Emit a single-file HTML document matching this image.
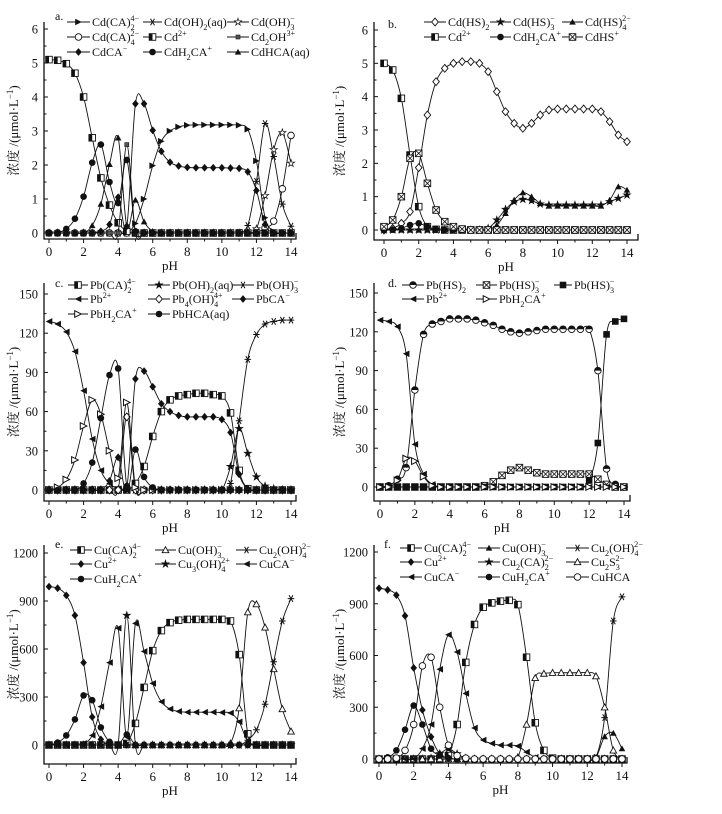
<!DOCTYPE html>
<html><head><meta charset="utf-8">
<style>
html,body{margin:0;padding:0;background:#fff;}
svg{display:block;}
text{font-family:"Liberation Serif","Noto Serif CJK SC",serif;fill:#111;}
</style></head>
<body>
<svg id="chart" width="722" height="814" viewBox="0 0 722 814" xmlns="http://www.w3.org/2000/svg"></svg>
<script>
const PH=[0,0.5,1,1.5,2,2.5,3,3.5,4,4.5,5,5.5,6,6.5,7,7.5,8,8.5,9,9.5,10,10.5,11,11.5,12,12.5,13,13.5,14];
const X_TICKS=[0,2,4,6,8,10,12,14];
const Y_TICKS_CD=[0,1,2,3,4,5,6];
const Y_TICKS_PB=[0,30,60,90,120,150];
const Y_TICKS_CU=[0,300,600,900,1200];

// panel a
const A_CdCA2=[0,0,0,0,0,0,0,0,0,0,0.28,1.0,1.98,2.7,3.0,3.12,3.17,3.18,3.18,3.18,3.18,3.18,3.17,3.05,2.12,0.45,0.05,0,0];
const A_CdOH2=[0,0,0,0,0,0,0,0,0,0,0,0,0,0,0,0,0,0,0,0,0,0,0.02,0.22,1.52,3.22,2.25,0.85,0.2];
const A_CdOH3=[0,0,0,0,0,0,0,0,0,0,0,0,0,0,0,0,0,0,0,0,0,0,0,0.02,0.12,1.1,2.45,2.95,2.05];
const A_CdCA4=[0,0,0,0,0,0,0,0,0,0,0,0,0,0,0,0,0,0,0,0,0,0,0,0,0,0.15,0.35,1.3,2.87];
const A_Cd=[5.1,5.08,4.98,4.7,4.0,2.8,1.62,0.82,0.3,0.05,0,0,0,0,0,0,0,0,0,0,0,0,0,0,0,0,0,0,0];
const A_Cd2OH=[0,0,0,0,0,0,0,0,0,2.6,0,0,0,0,0,0,0,0,0,0,0,0,0,0,0,0,0,0,0];
const A_CdCA=[0,0,0,0,0,0,0.05,0.25,1.05,0.2,3.8,3.8,3.02,2.4,2.08,1.97,1.93,1.92,1.92,1.92,1.92,1.91,1.9,1.8,1.25,0.25,0,0,0];
const A_CdH2CA=[0,0.02,0.12,0.42,1.07,2.07,2.6,1.5,0.88,2.15,0.05,0,0,0,0,0,0,0,0,0,0,0,0,0,0,0,0,0,0];
const A_CdHCA=[0,0,0,0,0,0.22,0.85,2.02,2.8,0.2,0.97,0.33,0.05,0,0,0,0,0,0,0,0,0,0,0,0,0,0,0,0];
// panel b
const B_CdHS2=[0,0.05,0.2,0.55,1.87,3.45,4.45,4.85,5.0,5.05,5.05,5.0,4.75,4.15,3.55,3.2,3.05,3.2,3.45,3.6,3.63,3.63,3.63,3.63,3.63,3.55,3.25,2.85,2.65];
const B_CdHS3=[0,0,0,0,0,0,0,0,0,0,0,0,0.05,0.3,0.62,0.85,0.92,0.88,0.78,0.75,0.75,0.75,0.75,0.75,0.75,0.75,0.85,0.95,1.05];
const B_CdHS4=[0,0,0,0,0,0,0,0,0,0,0,0,0,0.15,0.5,0.9,1.12,1.0,0.8,0.72,0.72,0.72,0.72,0.72,0.72,0.72,0.9,1.3,1.2];
const B_Cd=[5.0,4.8,3.95,2.25,0.7,0.1,0.02,0,0,0,0,0,0,0,0,0,0,0,0,0,0,0,0,0,0,0,0,0,0];
const B_CdH2CA=[0,0.01,0.05,0.15,0.2,0.1,0.02,0,0,0,0,0,0,0,0,0,0,0,0,0,0,0,0,0,0,0,0,0,0];
const B_CdHS=[0.1,0.3,1.0,2.15,2.3,1.4,0.6,0.25,0.1,0.03,0,0,0,0,0,0,0,0,0,0,0,0,0,0,0,0,0,0,0];
// panel c
const C_PbCA2=[0,0,0,0,0,0,0,0,0,0,5,18,41,60,69,72,73,74,74,73,72,59,15,1,0,0,0,0,0];
const C_PbOH2=[0,0,0,0,0,0,0,0,0,0,0,0,0,0,0,0,0,0,0,0,0,18,47,28,10,3,1,0,0];
const C_PbOH3=[0,0,0,0,0,0,0,0,0,0,0,0,0,0,0,0,0,0,0,0,0,5,53,100,119,127,129,130,130];
const C_Pb=[129,127,121,106,76,39,15,5,1,0,0,0,0,0,0,0,0,0,0,0,0,0,0,0,0,0,0,0,0];
const C_Pb4OH4=[0,0,0,0,0,0,0,0,0,56,0,0,0,0,0,0,0,0,0,0,0,0,0,0,0,0,0,0,0];
const C_PbCA=[0,0,0,0,0,0,0,7,25,2,85,91,79,66,60,57,56,56,56,56,54,44,12,1,0,0,0,0,0];
const C_PbH2CA=[0,2,8,23,49,69,58,30,9,67,2,0,0,0,0,0,0,0,0,0,0,0,0,0,0,0,0,0,0];
const C_PbHCA=[0,0,0,0,5,21,55,88,93,3,31,10,2,0,0,0,0,0,0,0,0,0,0,0,0,0,0,0,0];
// panel d
const D_PbHS2=[0,1,6,15,75,118,126,128,130,130,130,129,127,125,122,120,119,120,121,122,122,122,122,122,122,90,14,2,0];
const D_PbHS3x=[0,0,0,0,0,0,0,0,0,0,0,0,1,4,9,13,15,13,11,10,10,10,10,10,10,6,2,0,0];
const D_PbHS3=[0,0,0,0,0,0,0,0,0,0,0,0,0,0,0,0,0,0,0,0,0,0,0,0,5,34,118,128,130];
const D_Pb=[129,128,124,103,33,10,2,0,0,0,0,0,0,0,0,0,0,0,0,0,0,0,0,0,0,0,0,0,0];
const D_PbH2CA=[0,0,5,22,20,8,1,0,0,0,0,0,0,0,0,0,0,0,0,0,0,0,0,0,0,0,0,0,0];
// panel e
const E_CuCA2=[0,0,0,0,0,0,0,0,0,10,135,360,590,715,765,780,785,785,785,785,785,775,565,70,0,0,0,0,0];
const E_CuOH3=[0,0,0,0,0,0,0,0,0,0,0,0,0,0,0,0,0,0,0,0,0,10,230,830,880,735,475,225,85];
const E_Cu2OH4=[0,0,0,0,0,0,0,0,0,0,0,0,0,0,0,0,0,0,0,0,0,0,0,30,95,255,520,775,915];
const E_Cu=[990,980,935,810,515,175,35,5,0,0,0,0,0,0,0,0,0,0,0,0,0,0,0,0,0,0,0,0,0];
const E_Cu3OH4=[0,0,0,0,0,0,0,0,0,810,0,0,0,0,0,0,0,0,0,0,0,0,0,0,0,0,0,0,0];
const E_CuCA=[0,0,0,0,10,60,240,515,730,50,760,585,385,270,225,210,205,205,205,205,203,200,145,20,0,0,0,0,0];
const E_CuH2CA=[0,15,60,160,310,280,110,20,0,65,0,0,0,0,0,0,0,0,0,0,0,0,0,0,0,0,0,0,0];
// panel f
const F_CuCA2=[0,0,0,0,0,0,0,0,20,200,560,780,880,905,915,920,895,590,210,50,5,0,0,0,0,0,0,0,0];
const F_CuOH3=[0,0,0,0,0,0,0,0,0,0,0,0,0,0,0,0,0,0,0,0,0,0,0,0,0,10,130,150,60];
const F_Cu2OH4=[0,0,0,0,0,0,0,0,0,0,0,0,0,0,0,0,0,0,0,0,0,0,0,0,0,10,240,800,940];
const F_Cu=[990,980,950,830,528,284,128,30,5,0,0,0,0,0,0,0,0,0,0,0,0,0,0,0,0,0,0,0,0];
const F_Cu2CA2=[0,0,0,0,0,0,5,30,60,30,5,0,0,0,0,0,0,0,0,0,0,0,0,0,0,0,0,0,0];
const F_Cu2S3=[0,0,0,0,0,0,0,0,0,0,0,0,0,0,0,0,10,200,470,495,500,500,500,500,500,480,300,50,0];
const F_CuCA=[0,0,0,0,0,60,200,520,720,620,380,180,110,90,80,80,75,40,10,0,0,0,0,0,0,0,0,0,0];
const F_CuH2CA=[0,10,50,170,310,200,60,20,5,0,0,0,0,0,0,0,0,0,0,0,0,0,0,0,0,0,0,0,0];
const F_CuHCA=[0,0,5,50,200,540,590,300,80,20,5,0,0,0,0,0,0,0,0,0,0,0,0,0,0,0,0,0,0];

const NS='http://www.w3.org/2000/svg';
const svg=document.getElementById('chart');
function mk(tag,attrs,parent){const e=document.createElementNS(NS,tag);for(const k in attrs)e.setAttribute(k,attrs[k]);(parent||svg).appendChild(e);return e;}

function richText(parent,x,y,str,size){
  const t=mk('text',{x:x,y:y,'font-size':size},parent);
  const re=/(_|\^)(\{[^}]*\}|.)/g;let last=0,m,shift=0;
  const add=(s,dy,fs,dx)=>{const ts=mk('tspan',{},t);if(dy)ts.setAttribute('dy',dy);if(dx)ts.setAttribute('dx',dx);if(fs)ts.setAttribute('font-size',fs);ts.textContent=s;};
  let prevSub=false,prevLen=0;
  while((m=re.exec(str))){
    if(m.index>last){add(str.slice(last,m.index),-shift||0,null,0);shift=0;prevSub=false;}
    let s=m[2];if(s[0]==='{')s=s.slice(1,-1);
    if(m[1]==='_'){add(s,4-shift,size*0.68,0);shift=4;prevSub=true;prevLen=s.length;}
    else{add(s,-5-shift,size*0.68,prevSub?-size*0.36*prevLen:0);shift=-5;prevSub=false;}
    last=re.lastIndex;
  }
  if(last<str.length)add(str.slice(last),-shift||0,null,0);
  return t;
}

function marker(g,type,cx,cy){
  const r=3.3;let e;
  switch(type){
    case 'rtri':e=mk('polygon',{points:`${cx-r},${cy-r} ${cx+r},${cy} ${cx-r},${cy+r}`,fill:'#111'},g);break;
    case 'ortri':e=mk('polygon',{points:`${cx-r},${cy-r} ${cx+r},${cy} ${cx-r},${cy+r}`,fill:'#fff',stroke:'#111','stroke-width':1},g);break;
    case 'ltri':e=mk('polygon',{points:`${cx+r},${cy-r} ${cx-r},${cy} ${cx+r},${cy+r}`,fill:'#111'},g);break;
    case 'tri':e=mk('polygon',{points:`${cx},${cy-r} ${cx+r},${cy+r*0.8} ${cx-r},${cy+r*0.8}`,fill:'#111'},g);break;
    case 'otri':e=mk('polygon',{points:`${cx},${cy-r} ${cx+r},${cy+r*0.8} ${cx-r},${cy+r*0.8}`,fill:'#fff',stroke:'#111','stroke-width':0.9},g);break;
    case 'diamond':e=mk('polygon',{points:`${cx},${cy-r-0.6} ${cx+r},${cy} ${cx},${cy+r+0.6} ${cx-r},${cy}`,fill:'#111'},g);break;
    case 'odiamond':e=mk('polygon',{points:`${cx},${cy-r-0.6} ${cx+r},${cy} ${cx},${cy+r+0.6} ${cx-r},${cy}`,fill:'#fff',stroke:'#111','stroke-width':0.9},g);break;
    case 'circle':e=mk('circle',{cx:cx,cy:cy,r:r,fill:'#111'},g);break;
    case 'ocircle':e=mk('circle',{cx:cx,cy:cy,r:r,fill:'#fff',stroke:'#111','stroke-width':0.9},g);break;
    case 'hcircle':e=mk('circle',{cx:cx,cy:cy,r:r,fill:'#fff',stroke:'#111','stroke-width':0.9},g);mk('path',{d:`M${cx-r},${cy} A${r},${r} 0 0 1 ${cx+r},${cy} Z`,fill:'#111'},g);break;
    case 'square':e=mk('rect',{x:cx-r,y:cy-r,width:2*r,height:2*r,fill:'#111'},g);break;
    case 'hsquare':e=mk('rect',{x:cx-r,y:cy-r,width:2*r,height:2*r,fill:'#fff',stroke:'#111','stroke-width':0.9},g);mk('rect',{x:cx-r,y:cy-r,width:r,height:2*r,fill:'#111'},g);break;
    case 'ssquare':e=mk('rect',{x:cx-2,y:cy-2,width:4,height:4,fill:'#555',stroke:'#111','stroke-width':0.6},g);break;
    case 'xsquare':e=mk('rect',{x:cx-r,y:cy-r,width:2*r,height:2*r,fill:'#fff',stroke:'#111','stroke-width':0.9},g);mk('path',{d:`M${cx-r},${cy-r}L${cx+r},${cy+r}M${cx+r},${cy-r}L${cx-r},${cy+r}`,stroke:'#111','stroke-width':0.8},g);break;
    case 'asterisk':e=mk('path',{d:`M${cx-r},${cy}L${cx+r},${cy}M${cx-r*0.6},${cy-r}L${cx+r*0.6},${cy+r}M${cx+r*0.6},${cy-r}L${cx-r*0.6},${cy+r}`,stroke:'#111','stroke-width':1},g);break;
    case 'star': case 'ostar':{let p=[];for(let i=0;i<10;i++){const a=-Math.PI/2+i*Math.PI/5,rr=i%2?r*0.45:r+0.5;p.push((cx+rr*Math.cos(a)).toFixed(2)+','+(cy+rr*Math.sin(a)).toFixed(2));}
      e=mk('polygon',{points:p.join(' '),fill:type==='star'?'#111':'#fff',stroke:'#111','stroke-width':0.7},g);break;}
  }
  return e;
}

function smoothPath(pts){
  let d=`M${pts[0][0].toFixed(2)},${pts[0][1].toFixed(2)}`;
  for(let i=0;i<pts.length-1;i++){
    const p0=pts[Math.max(i-1,0)],p1=pts[i],p2=pts[i+1],p3=pts[Math.min(i+2,pts.length-1)];
    const c1=[p1[0]+(p2[0]-p0[0])/6,p1[1]+(p2[1]-p0[1])/6],c2=[p2[0]-(p3[0]-p1[0])/6,p2[1]-(p3[1]-p1[1])/6];
    d+=`C${c1[0].toFixed(2)},${c1[1].toFixed(2)} ${c2[0].toFixed(2)},${c2[1].toFixed(2)} ${p2[0].toFixed(2)},${p2[1].toFixed(2)}`;
  }
  return d;
}

const panels=[
 {id:'a',label:'a.',L:44,T:22,B:239,R:296,x0:49,x14:291,y0:233,yTop:29,ymax:6,yt:Y_TICKS_CD,minor:0.5,ylabX:18,labX:55,labY:20,
  rows:[26,41,56],cols:[[67,90],[143,162],[227,249]],
  series:[['Cd(CA)_2^{4−}','rtri',A_CdCA2],['Cd(OH)_2(aq)','asterisk',A_CdOH2],['Cd(OH)_3^−','ostar',A_CdOH3],
          ['Cd(CA)_4^{2−}','ocircle',A_CdCA4],['Cd^{2+}','hsquare',A_Cd],['Cd_2OH^{3+}','ssquare',A_Cd2OH],
          ['CdCA^−','diamond',A_CdCA],['CdH_2CA^+','circle',A_CdH2CA],['CdHCA(aq)','tri',A_CdHCA]]},
 {id:'b',label:'b.',L:374,T:22,B:240,R:638,x0:384,x14:627,y0:230,yTop:30,ymax:6,yt:Y_TICKS_CD,minor:0.5,ylabX:344,labX:388,labY:28,
  rows:[26,41],cols:[[424,446],[490,511],[562,583]],
  series:[['Cd(HS)_2','odiamond',B_CdHS2],['Cd(HS)_3^−','star',B_CdHS3],['Cd(HS)_4^{2−}','tri',B_CdHS4],
          ['Cd^{2+}','hsquare',B_Cd],['CdH_2CA^+','circle',B_CdH2CA],['CdHS^+','xsquare',B_CdHS]]},
 {id:'c',label:'c.',L:44,T:283,B:501,R:296,x0:49,x14:291,y0:490,yTop:294,ymax:150,yt:Y_TICKS_PB,minor:15,ylabX:18,labX:55,labY:287,
  rows:[289,303,318],cols:[[68,88],[148,170],[232,254]],
  series:[['Pb(CA)_2^{4−}','hsquare',C_PbCA2],['Pb(OH)_2(aq)','star',C_PbOH2],['Pb(OH)_3^−','asterisk',C_PbOH3],
          ['Pb^{2+}','ltri',C_Pb],['Pb_4(OH)_4^{4+}','odiamond',C_Pb4OH4],['PbCA^−','diamond',C_PbCA],
          ['PbH_2CA^+','ortri',C_PbH2CA],['PbHCA(aq)','circle',C_PbHCA]]},
 {id:'d',label:'d.',L:374,T:283,B:501,R:630,x0:380,x14:624,y0:487,yTop:293,ymax:150,yt:Y_TICKS_PB,minor:15,ylabX:344,labX:388,labY:287,
  rows:[289,303],cols:[[402,424],[476,497],[554,572]],
  series:[['Pb(HS)_2','hcircle',D_PbHS2],['Pb(HS)_3^−','xsquare',D_PbHS3x],['Pb(HS)_3^−','square',D_PbHS3],
          ['Pb^{2+}','ltri',D_Pb],['PbH_2CA^+','ortri',D_PbH2CA]]},
 {id:'e',label:'e.',L:44,T:545,B:764,R:296,x0:49,x14:291,y0:745,yTop:553,ymax:1200,yt:Y_TICKS_CU,minor:150,ylabX:18,labX:55,labY:548,
  rows:[554,568,583],cols:[[70,92],[155,176],[236,257]],
  series:[['Cu(CA)_2^{4−}','hsquare',E_CuCA2],['Cu(OH)_3^−','otri',E_CuOH3],['Cu_2(OH)_4^{2−}','asterisk',E_Cu2OH4],
          ['Cu^{2+}','diamond',E_Cu],['Cu_3(OH)_4^{2+}','star',E_Cu3OH4],['CuCA^−','ltri',E_CuCA],
          ['CuH_2CA^+','circle',E_CuH2CA]]},
 {id:'f',label:'f.',L:374,T:545,B:763,R:627,x0:379,x14:622,y0:759,yTop:552,ymax:1200,yt:Y_TICKS_CU,minor:150,ylabX:344,labX:384,labY:548,
  rows:[552,566,581],cols:[[400,422],[478,500],[566,589]],
  series:[['Cu(CA)_2^{4−}','hsquare',F_CuCA2],['Cu(OH)_3^−','tri',F_CuOH3],['Cu_2(OH)_4^{2−}','asterisk',F_Cu2OH4],
          ['Cu^{2+}','diamond',F_Cu],['Cu_2(CA)_2^{2−}','star',F_Cu2CA2],['Cu_2S_3^{2−}','otri',F_Cu2S3],
          ['CuCA^−','ltri',F_CuCA],['CuH_2CA^+','circle',F_CuH2CA],['CuHCA','ocircle',F_CuHCA]]}
];

panels.forEach(P=>{
  const g=mk('g',{});
  
  
  const sx=v=>P.x0+(P.x14-P.x0)*v/14;
  const sy=v=>P.y0-(P.y0-P.yTop)*v/P.ymax;
  const ax=mk('path',{d:`M${P.L},${P.T}L${P.L},${P.B}L${P.R},${P.B}L${P.R},${P.B-6}`,fill:'none',stroke:'#111','stroke-width':1.3},g);
  
  
  X_TICKS.forEach(t=>{
    mk('line',{x1:sx(t),x2:sx(t),y1:P.B,y2:P.B+4,stroke:'#111','stroke-width':1},g);
    if(t<14)mk('line',{x1:sx(t+1),x2:sx(t+1),y1:P.B,y2:P.B+2.5,stroke:'#111','stroke-width':1},g);
    const tl=mk('text',{x:sx(t),y:P.B+17,'font-size':13,'text-anchor':'middle'},g);tl.textContent=t;
    
    
  });
  P.yt.forEach(t=>{
    mk('line',{x1:P.L,x2:P.L+4,y1:sy(t),y2:sy(t),stroke:'#111','stroke-width':1},g);
    if(t<P.ymax)mk('line',{x1:P.L,x2:P.L+2.5,y1:sy(t+P.minor),y2:sy(t+P.minor),stroke:'#111','stroke-width':1},g);
    const tl=mk('text',{x:P.L-6,y:sy(t)+4.5,'font-size':12.5,'text-anchor':'end'},g);tl.textContent=t;
    
    
  });
  const xl=mk('text',{x:(P.L+P.R)/2,y:P.B+31,'font-size':13,'text-anchor':'middle'},g);xl.textContent='pH';
  
  
  const yc=(P.T+P.B)/2;
  const yl=mk('text',{x:0,y:0,'font-size':13,'text-anchor':'middle',transform:`translate(${P.ylabX},${yc}) rotate(-90)`},g);
  yl.innerHTML='浓度 /(μmol·L<tspan dy="-5" font-size="9">−1</tspan><tspan dy="5">)</tspan>';
  
  
  const pl=mk('text',{x:P.labX,y:P.labY,'font-size':12},g);pl.textContent=P.label;
  
  
  P.series.forEach((s,i)=>{
    const sg=mk('g',{},g);
    
    
    const pts=PH.map((p,k)=>[sx(p),sy(s[2][k])]);
    const ln=mk('path',{d:smoothPath(pts),fill:'none',stroke:'#111','stroke-width':0.9},sg);
    
    
    pts.forEach(pt=>{const m=marker(sg,s[1],pt[0],pt[1]);
      
      });
    const row=Math.floor(i/3),col=i%3;
    const lg=mk('g',{},g);
    
    
    const c=P.cols[col],y=P.rows[row];
    mk('line',{x1:c[0],x2:c[1],y1:y-4,y2:y-4,stroke:'#111','stroke-width':0.9},lg);
    marker(lg,s[1],(c[0]+c[1])/2,y-4);
    richText(lg,c[1]+2,y,s[0],12);
  });
});
</script>
</body></html>
